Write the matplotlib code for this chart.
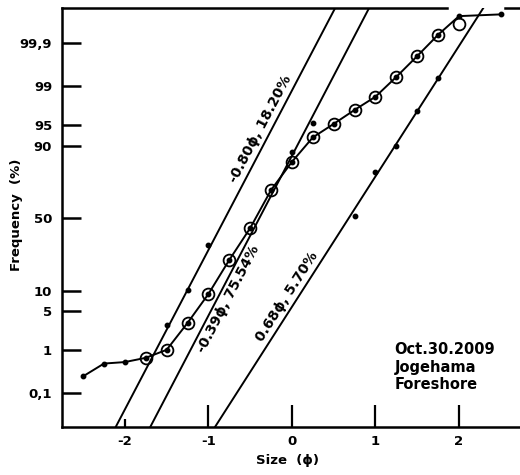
"""
Cumulative grain-size curve on probability paper, Jogehama foreshore.
"""
import math
from statistics import NormalDist
import numpy as np
import matplotlib
matplotlib.use("Agg")
import matplotlib.pyplot as plt

plt.rcParams["font.family"] = ["DejaVu Sans"]
plt.rcParams["font.weight"] = "bold"

# ── data (cumulative %) ──────────────────────────────────────────────────────
main_x   = [-2.5, -2.25, -2.0, -1.75, -1.5, -1.25, -1.0, -0.75, -0.5, -0.25,
            0.0, 0.25, 0.5, 0.75, 1.0, 1.25, 1.5, 1.75, 2.0, 2.5]
main_pct = [0.26, 0.51, 0.55, 0.68, 1.0, 3.2, 9.0, 23.0, 43.0, 69.0,
            84.0, 92.3, 95.2, 97.2, 98.4, 99.37, 99.79, 99.94, 99.982, 99.984]

circle_x   = [-1.75, -1.5, -1.25, -1.0, -0.75, -0.5, -0.25, 0.0, 0.25, 0.5,
              0.75, 1.0, 1.25, 1.5, 1.75, 2.0]
circle_pct = [0.68, 0.99, 3.2, 9.0, 23.0, 43.0, 69.0, 84.0, 92.3, 95.2,
              97.2, 98.4, 99.37, 99.79, 99.94, 99.97]

# sub-population points
pop1_x, pop1_pct = [-1.5, -1.25, -1.0], [2.9, 10.2, 31.6]
pop2_x, pop2_pct = [0.0, 0.25], [87.9, 95.3]
pop3_x, pop3_pct = [0.75, 1.0, 1.25, 1.5, 1.75], [51.6, 79.1, 90.0, 97.1, 99.34]

# fitted normal populations: mean (phi), sorting
fit_means  = [-0.80, -0.39, 0.68]
fit_sigmas = [0.355, 0.354, 0.434]
fit_labels = ["-0.80ϕ, 18.20%", "-0.39ϕ, 75.54%", "0.68ϕ, 5.70%"]
label_z    = [1.50, -1.34, -1.48]
label_side = ["bottom", "top", "bottom"]

ytick_pct    = [0.1, 1, 5, 10, 50, 90, 95, 99, 99.9]
ytick_labels = ["0,1", "1", "5", "10", "50", "90", "95", "99", "99,9"]
xticks = [-2, -1, 0, 1, 2]

nd = NormalDist()
def probit(p):
    return np.array([nd.inv_cdf(v / 100.0) for v in np.atleast_1d(p)])

# ── figure ───────────────────────────────────────────────────────────────────
fig = plt.figure(figsize=(5.2, 4.75), dpi=100)
ax = fig.add_axes([0.119, 0.101, 0.881, 0.882])
XLIM = (-2.754, 2.73)
YLIM = (-3.69, 3.71)
ax.set_xlim(*XLIM)
ax.set_ylim(*YLIM)

lw = 1.4
ax.plot(main_x, probit(main_pct), "-", color="black", lw=lw,
        marker="o", ms=3.2, zorder=3)
ax.plot(circle_x, probit(circle_pct), "o", mfc="none", mec="black",
        ms=8.5, mew=1.3, zorder=4)
for xs, ps in [(pop1_x, pop1_pct), (pop2_x, pop2_pct), (pop3_x, pop3_pct)]:
    ax.plot(xs, probit(ps), "o", color="black", ms=3.2, zorder=3)

xx = np.array(XLIM)
for mu, sd, lab, lz, side in zip(fit_means, fit_sigmas, fit_labels, label_z, label_side):
    ax.plot(xx, (xx - mu) / sd, color="black", lw=lw, zorder=2)
    p0 = ax.transData.transform((XLIM[0], (XLIM[0] - mu) / sd))
    p1 = ax.transData.transform((XLIM[1], (XLIM[1] - mu) / sd))
    ang = math.degrees(math.atan2(p1[1] - p0[1], p1[0] - p0[0]))
    a = math.radians(ang)
    off = 2.0 if side == "bottom" else -2.0
    ax.annotate(lab, xy=(mu + sd * lz, lz),
                xytext=(-math.sin(a) * off, math.cos(a) * off),
                textcoords="offset points", rotation=ang, rotation_mode="anchor",
                ha="center", va=side, fontsize=10, fontweight="bold")

ax.text(1.23, -2.63, "Oct.30.2009\nJogehama\nForeshore", ha="left", va="center",
        fontsize=10.5, fontweight="bold", linespacing=1.2)

# axes styling
ax.set_yticks(probit(ytick_pct))
ax.set_yticklabels(ytick_labels)
ax.set_xticks(xticks)
ax.set_xticklabels([str(t) for t in xticks])
ax.tick_params(axis="y", direction="in", length=14, width=1.8, pad=7, labelsize=9.5)
ax.tick_params(axis="x", direction="in", length=16, width=1.6, pad=6, labelsize=9.5)
ax.xaxis.get_major_ticks()[0].tick1line.set_markersize(6)

ax.spines["right"].set_visible(False)
for s in ["left", "bottom", "top"]:
    ax.spines[s].set_linewidth(1.8)
ax.spines["top"].set_bounds(XLIM[0], 1.856)
ax.plot([0.967, 1.0], [1.0, 1.0], color="black", lw=1.8,
        transform=ax.transAxes, clip_on=False)

ax.set_xlabel("Size  (ϕ)", fontsize=9.5, fontweight="bold", va="center")
ax.set_ylabel("Frequency  (%)", fontsize=9.5, fontweight="bold", va="center")
ax.xaxis.set_label_coords(0.493, -0.079)
ax.yaxis.set_label_coords(-0.1, 0.506)

plt.savefig("out.png", dpi=100)
